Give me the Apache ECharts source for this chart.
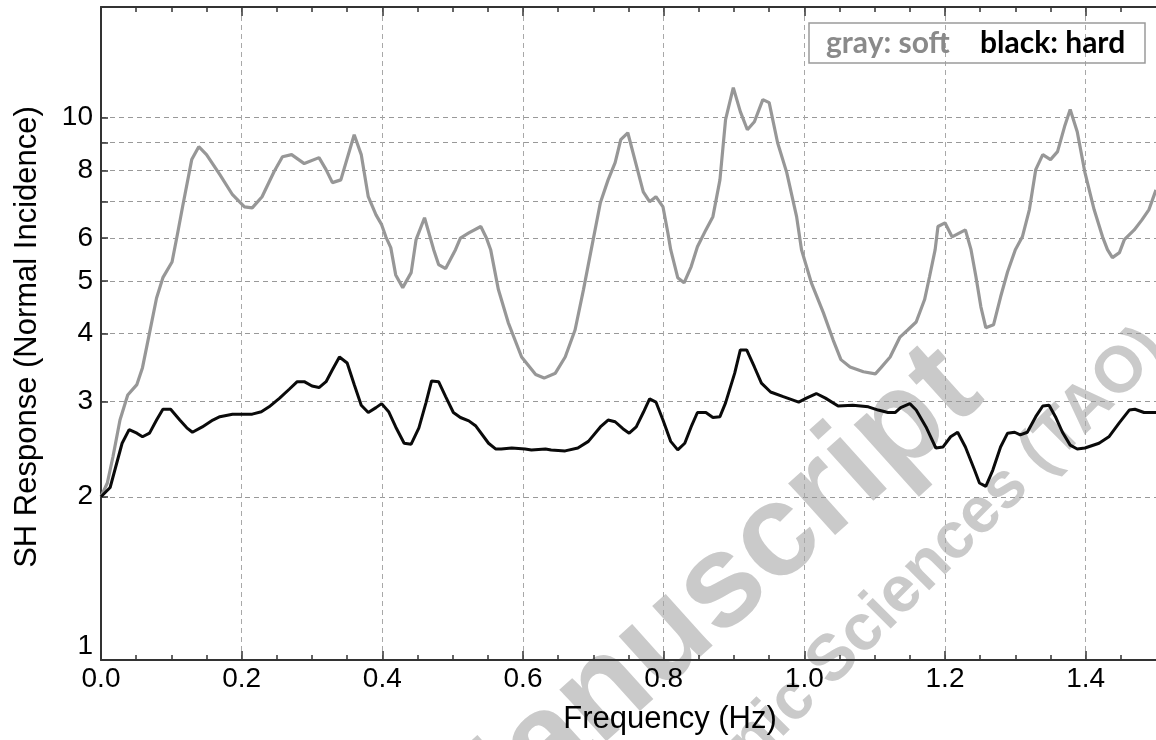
<!DOCTYPE html>
<html><head><meta charset="utf-8">
<script src="https://cdn.jsdelivr.net/npm/echarts@6/dist/echarts.min.js"></script>
<style>html,body{margin:0;padding:0;background:#fff}#c{width:1156px;height:740px}</style>
</head><body><div id="c"></div>
<script>
// [frequency (Hz), SH response]
const softPoints = [[0,2.00],[0.009,2.12],[0.017,2.37],[0.027,2.77],[0.038,3.08],[0.051,3.22],[0.059,3.46],[0.069,4.01],[0.079,4.65],[0.088,5.07],[0.101,5.42],[0.109,6.13],[0.116,6.85],[0.129,8.37],[0.139,8.84],[0.150,8.55],[0.169,7.85],[0.187,7.21],[0.204,6.85],[0.215,6.82],[0.229,7.15],[0.246,7.95],[0.258,8.47],[0.271,8.55],[0.289,8.23],[0.310,8.44],[0.320,8.02],[0.329,7.59],[0.341,7.68],[0.360,9.30],[0.370,8.55],[0.380,7.15],[0.391,6.62],[0.399,6.35],[0.405,6.03],[0.412,5.76],[0.419,5.13],[0.429,4.86],[0.441,5.18],[0.448,5.96],[0.460,6.54],[0.473,5.71],[0.480,5.36],[0.490,5.27],[0.504,5.71],[0.511,6.00],[0.523,6.13],[0.540,6.30],[0.548,6.00],[0.554,5.71],[0.565,4.82],[0.579,4.19],[0.598,3.62],[0.618,3.36],[0.630,3.31],[0.646,3.38],[0.660,3.62],[0.674,4.06],[0.686,4.82],[0.697,5.71],[0.710,6.97],[0.721,7.68],[0.731,8.26],[0.739,9.11],[0.749,9.38],[0.759,8.37],[0.771,7.30],[0.780,7.00],[0.789,7.15],[0.799,6.85],[0.806,6.13],[0.810,5.71],[0.820,5.07],[0.829,4.96],[0.839,5.31],[0.848,5.78],[0.860,6.21],[0.870,6.57],[0.880,7.68],[0.888,9.92],[0.899,11.36],[0.909,10.26],[0.919,9.50],[0.929,9.83],[0.941,10.80],[0.950,10.66],[0.962,8.99],[0.975,7.92],[0.989,6.57],[0.996,5.71],[1.010,4.96],[1.027,4.37],[1.041,3.89],[1.052,3.58],[1.065,3.47],[1.084,3.40],[1.101,3.37],[1.109,3.46],[1.122,3.62],[1.136,3.94],[1.147,4.06],[1.159,4.20],[1.171,4.62],[1.178,5.09],[1.186,5.71],[1.190,6.30],[1.200,6.40],[1.210,6.03],[1.229,6.21],[1.237,5.71],[1.244,5.09],[1.251,4.48],[1.258,4.10],[1.269,4.15],[1.279,4.67],[1.289,5.20],[1.300,5.71],[1.310,6.03],[1.320,6.77],[1.329,8.02],[1.339,8.55],[1.350,8.37],[1.360,8.66],[1.370,9.63],[1.378,10.35],[1.388,9.42],[1.399,7.92],[1.412,6.77],[1.424,6.03],[1.431,5.71],[1.438,5.52],[1.448,5.64],[1.455,5.96],[1.469,6.21],[1.480,6.48],[1.490,6.77],[1.500,7.36]];
const hardPoints = [[0,2.00],[0.013,2.08],[0.030,2.51],[0.040,2.66],[0.051,2.62],[0.059,2.58],[0.069,2.62],[0.079,2.77],[0.088,2.90],[0.099,2.90],[0.112,2.77],[0.122,2.68],[0.130,2.63],[0.144,2.69],[0.159,2.77],[0.169,2.81],[0.187,2.84],[0.215,2.84],[0.228,2.87],[0.239,2.93],[0.254,3.04],[0.268,3.16],[0.279,3.26],[0.289,3.26],[0.300,3.20],[0.310,3.18],[0.320,3.26],[0.329,3.43],[0.339,3.62],[0.350,3.53],[0.360,3.22],[0.370,2.95],[0.380,2.86],[0.391,2.92],[0.399,2.97],[0.409,2.87],[0.419,2.69],[0.431,2.51],[0.441,2.50],[0.452,2.68],[0.462,2.98],[0.470,3.27],[0.480,3.26],[0.490,3.06],[0.501,2.86],[0.511,2.80],[0.523,2.76],[0.533,2.70],[0.551,2.51],[0.561,2.45],[0.569,2.45],[0.584,2.46],[0.603,2.45],[0.612,2.44],[0.632,2.45],[0.640,2.44],[0.660,2.43],[0.678,2.46],[0.693,2.53],[0.710,2.69],[0.721,2.77],[0.731,2.75],[0.742,2.67],[0.751,2.62],[0.761,2.69],[0.771,2.86],[0.780,3.03],[0.789,2.99],[0.799,2.77],[0.810,2.53],[0.820,2.44],[0.830,2.51],[0.839,2.69],[0.848,2.86],[0.860,2.86],[0.870,2.80],[0.880,2.81],[0.888,2.98],[0.901,3.38],[0.909,3.73],[0.918,3.73],[0.929,3.47],[0.939,3.24],[0.952,3.12],[0.970,3.06],[0.992,2.99],[1.003,3.04],[1.017,3.10],[1.030,3.04],[1.048,2.94],[1.069,2.95],[1.091,2.93],[1.105,2.89],[1.119,2.86],[1.129,2.86],[1.137,2.92],[1.150,2.97],[1.159,2.89],[1.173,2.69],[1.187,2.46],[1.197,2.47],[1.208,2.58],[1.218,2.63],[1.229,2.47],[1.242,2.24],[1.249,2.12],[1.258,2.09],[1.268,2.24],[1.279,2.47],[1.289,2.62],[1.299,2.63],[1.307,2.60],[1.317,2.63],[1.329,2.81],[1.339,2.94],[1.348,2.95],[1.357,2.81],[1.367,2.63],[1.378,2.49],[1.388,2.45],[1.399,2.46],[1.419,2.51],[1.433,2.58],[1.448,2.74],[1.462,2.89],[1.470,2.90],[1.483,2.86],[1.500,2.86]];
const xMajorTicks = [0,0.2,0.4,0.6,0.8,1.0,1.2,1.4];
const xMinorTicks = [0.05,0.1,0.15,0.25,0.3,0.35,0.45,0.5,0.55,0.65,0.7,0.75,0.85,0.9,0.95,1.05,1.1,1.15,1.25,1.3,1.35,1.45];
const yGridValues = [1,2,3,4,5,6,7,8,9,10];
const yTickLabels = [1,2,3,4,5,6,8,10];

const FONT = 'Liberation Sans';
const AX = '#333';
const chart = echarts.init(document.getElementById('c'));

function xAx(pos, ticks, len, withLabels, withSplit, withLine) {
  return {
    type: 'value', min: 0, max: 1.5, position: pos, interval: 0.2,
    axisLine: {show: withLine, onZero: false, lineStyle: {color: AX, width: 2}},
    axisTick: {show: true, inside: true, length: len, customValues: ticks, lineStyle: {color: AX, width: 1.5}},
    axisLabel: withLabels ? {show: true, customValues: xMajorTicks, formatter: v => Number(v).toFixed(1), fontSize: 28, color: '#000', fontFamily: FONT, margin: 5} : {show: false},
    splitLine: {show: withSplit, lineStyle: {type: [5, 4], color: '#a8a8a8', width: 1}}
  };
}

chart.setOption({
  animation: false,
  backgroundColor: '#fff',
  grid: {left: 101, top: 7, width: 1059, height: 653, containLabel: false},
  xAxis: [
    xAx('bottom', xMajorTicks, 9, true, true, true),
    xAx('bottom', xMinorTicks, 5, false, false, false),
    xAx('top', xMajorTicks, 9, false, false, true),
    xAx('top', xMinorTicks, 5, false, false, false)
  ],
  yAxis: {
    type: 'log', logBase: 10, min: 1, max: 16,
    axisLine: {show: true, lineStyle: {color: AX, width: 2}},
    axisTick: {show: true, inside: true, length: 7, customValues: yGridValues, lineStyle: {color: AX, width: 1.5}},
    axisLabel: {customValues: yTickLabels, fontSize: 28, color: '#000', fontFamily: FONT, margin: 8, verticalAlignMinLabel: 'bottom'},
    splitLine: {show: true, lineStyle: {type: [5, 4], color: '#999', width: 1}},
    minorTick: {show: false}
  },
  graphic: [
    {type: 'text', z: 0, silent: true, x: 962, y: 372, rotation: 42 * Math.PI / 180,
     style: {text: 'Accepted Manuscript', font: 'bold 132px "Liberation Sans"', fill: '#cacaca', textAlign: 'right', textVerticalAlign: 'middle'}},
    {type: 'text', z: 0, silent: true, x: 1155, y: 339, rotation: 45 * Math.PI / 180,
     style: {text: 'Terrestrial, Atmospheric and Oceanic Sciences (TAO)', font: 'bold 65px "Liberation Sans"', fill: '#cacaca', textAlign: 'right', textVerticalAlign: 'middle'}},
    {type: 'rect', z: 10, shape: {x: 809, y: 23, width: 336, height: 40}, style: {fill: 'none', stroke: '#9a9a9a', lineWidth: 1.5}},
    {type: 'text', z: 10, x: 826, y: 43, style: {text: 'gray: soft', font: 'bold 30px Lato', fill: '#8a8a8a', textAlign: 'left', textVerticalAlign: 'middle'}},
    {type: 'text', z: 10, x: 980, y: 43, style: {text: 'black: hard', font: 'bold 30px Lato', fill: '#000', textAlign: 'left', textVerticalAlign: 'middle'}},
    {type: 'text', z: 10, x: 670, y: 719, style: {text: 'Frequency (Hz)', font: '31px "Liberation Sans"', fill: '#000', textAlign: 'center', textVerticalAlign: 'middle'}},
    {type: 'text', z: 10, x: 27, y: 337, rotation: Math.PI / 2, style: {text: 'SH Response (Normal Incidence)', font: '31px "Liberation Sans"', fill: '#000', textAlign: 'center', textVerticalAlign: 'middle'}}
  ],
  series: [
    {name: 'soft', type: 'line', data: softPoints, showSymbol: false, symbol: 'none', lineStyle: {color: '#979797', width: 3.2}, z: 3},
    {name: 'hard', type: 'line', data: hardPoints, showSymbol: false, symbol: 'none', lineStyle: {color: '#0a0a0a', width: 3}, z: 4}
  ]
});
</script></body></html>
